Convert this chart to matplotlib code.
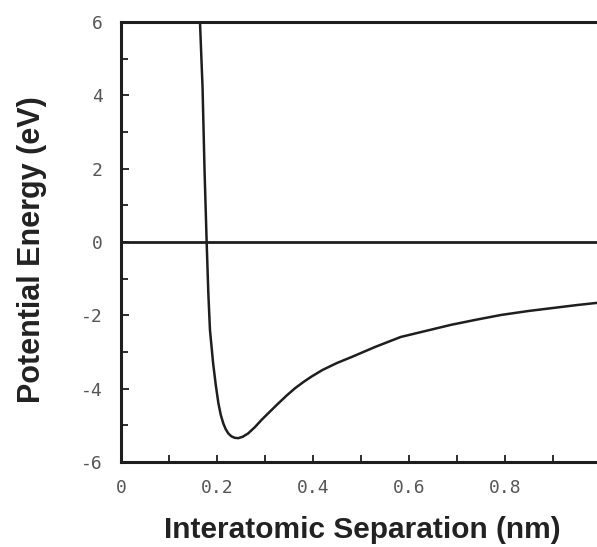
import matplotlib
matplotlib.use("Agg")
import matplotlib.pyplot as plt
from matplotlib.ticker import MultipleLocator, FixedLocator

# Data
separation_nm = [0.1646, 0.1700, 0.1740, 0.1785, 0.1820, 0.1854, 0.1920,
                 0.1975, 0.2030, 0.2080, 0.2130, 0.2180, 0.2236, 0.2300,
                 0.2370, 0.2444, 0.2540, 0.2650, 0.2790, 0.2930, 0.3100,
                 0.3280, 0.3450, 0.3625, 0.3800, 0.3970, 0.4200, 0.4500,
                 0.4800, 0.5300, 0.5830, 0.6400, 0.6875, 0.7400, 0.7920,
                 0.8500, 0.9000, 0.9500, 0.9920]
energy_ev = [6.00, 4.20, 2.00, 0.00, -1.40, -2.40, -3.31,
             -3.90, -4.40, -4.72, -4.94, -5.10, -5.22, -5.30,
             -5.34, -5.35, -5.31, -5.22, -5.05, -4.85, -4.63,
             -4.40, -4.19, -3.99, -3.82, -3.67, -3.49, -3.30,
             -3.14, -2.86, -2.59, -2.41, -2.26, -2.12, -1.99,
             -1.88, -1.80, -1.72, -1.66]
x_ticks = [0, 0.2, 0.4, 0.6, 0.8]
x_tick_labels = ["0", "0.2", "0.4", "0.6", "0.8"]
y_ticks = [6, 4, 2, 0, -2, -4, -6]
y_tick_labels = ["6", "4", "2", "0", "-2", "-4", "-6"]

fig = plt.figure(figsize=(5.97, 5.47), dpi=100)
ax = fig.add_axes([121/597, 1 - 462/547, 1 - 121/597, (462 - 22)/547])

ink = "#1e1e1e"
ax.plot(separation_nm, energy_ev, color=ink, lw=1.8, solid_capstyle="round",
        solid_joinstyle="round")
ax.axhline(0, color=ink, lw=2.0)

ax.set_xlim(0, 0.992)
ax.set_ylim(-6, 6)

for s in ["left", "bottom", "top"]:
    ax.spines[s].set_linewidth(2.2)
    ax.spines[s].set_color(ink)
ax.spines["right"].set_visible(False)

ax.xaxis.set_major_locator(FixedLocator(x_ticks))
ax.set_xticklabels(x_tick_labels)
ax.xaxis.set_minor_locator(MultipleLocator(0.1))
ax.yaxis.set_major_locator(FixedLocator(y_ticks))
ax.set_yticklabels(y_tick_labels)
ax.yaxis.set_minor_locator(MultipleLocator(1))

ax.tick_params(axis="both", which="both", direction="in", color=ink, width=1.3)
ax.tick_params(axis="x", which="major", length=5, pad=12)
ax.tick_params(axis="x", which="minor", length=5)
ax.tick_params(axis="y", which="major", length=6, pad=13)
ax.tick_params(axis="y", which="minor", length=5)
ax.tick_params(top=False, right=False)

for lab in ax.get_xticklabels() + ax.get_yticklabels():
    lab.set_family("DejaVu Sans Mono")
    lab.set_fontsize(13)
    lab.set_color("#555555")

ax.set_xlabel("Interatomic Separation (nm)", fontsize=21.5, fontweight="bold",
              family="Liberation Sans", color="#222222")
ax.set_ylabel("Potential Energy (eV)", fontsize=22, fontweight="bold",
              family="Liberation Sans", color="#222222")
ax.xaxis.set_label_coords((362 - 121) / (597 - 121), -(516 - 462) / 440)
ax.yaxis.set_label_coords(-(121 - 47) / (597 - 121), (462 - 250) / 440)

fig.savefig("out.png", dpi=100)
